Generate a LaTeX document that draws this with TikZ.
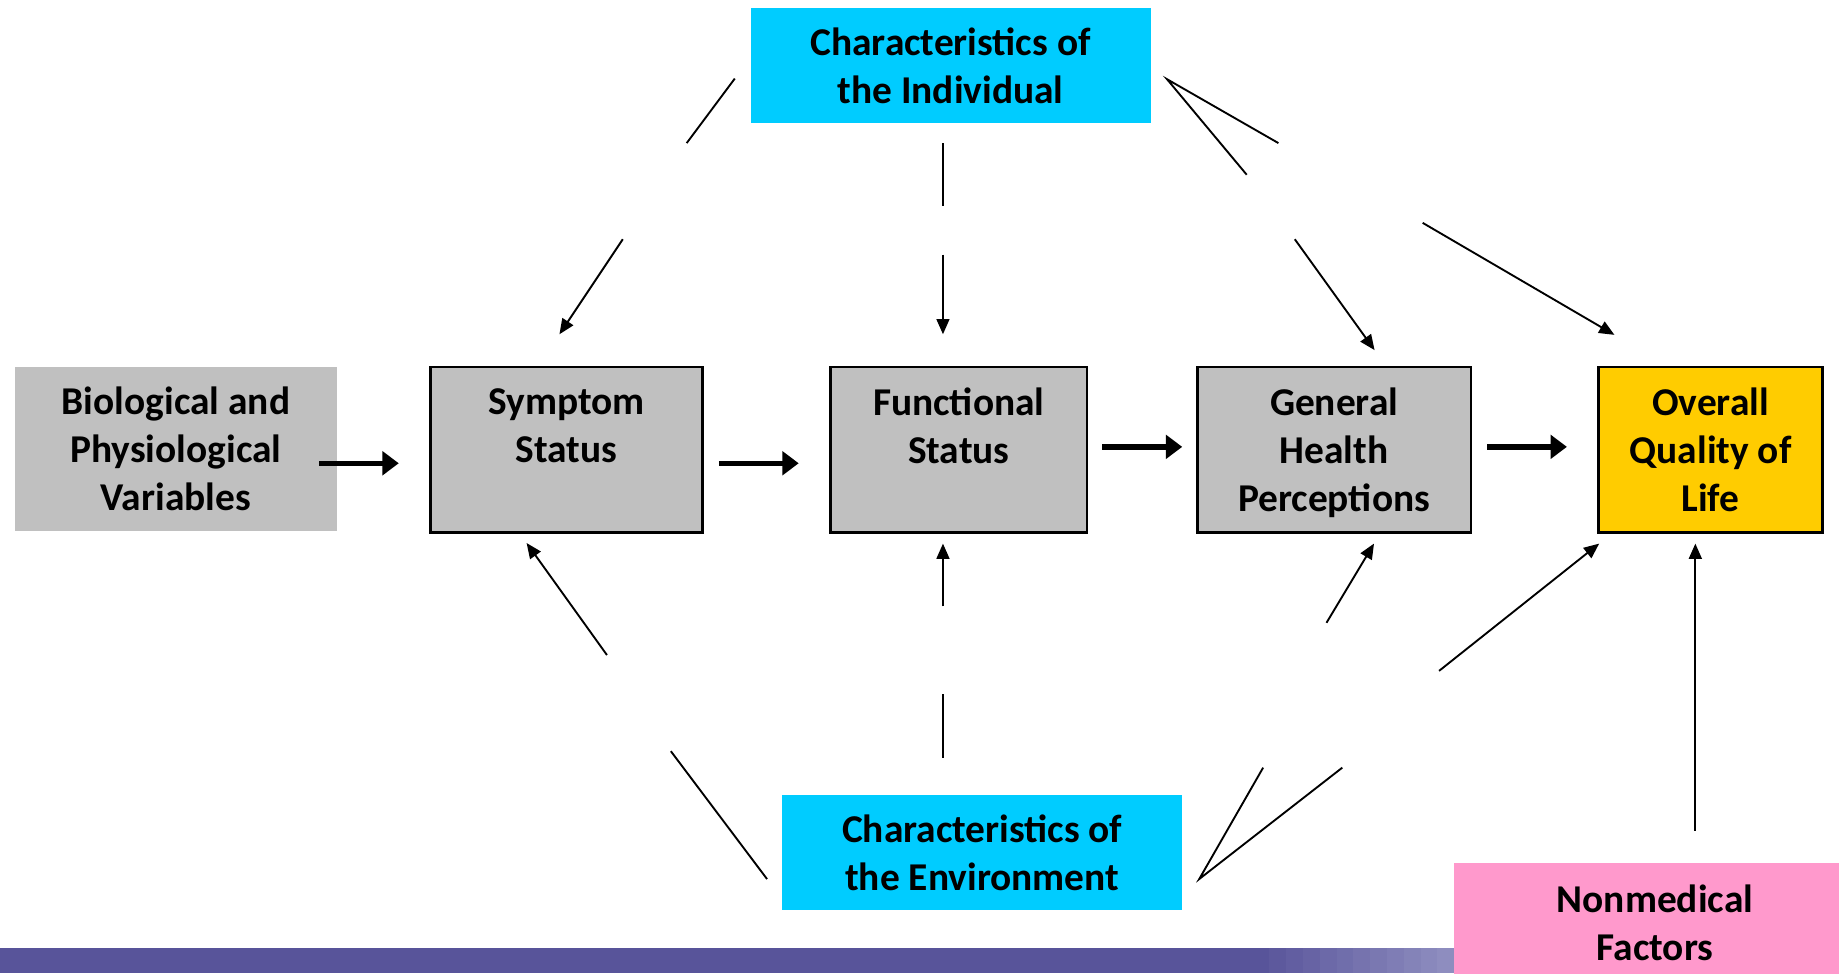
\documentclass[tikz,border=0pt]{standalone}
\usepackage{fontspec}
\setmainfont{Carlito}
\usetikzlibrary{arrows.meta}
\definecolor{cyanbox}{HTML}{00CCFF}
\definecolor{greybox}{HTML}{C0C0C0}
\definecolor{goldbox}{HTML}{FFCC00}
\definecolor{pinkbox}{HTML}{FF99CC}
\definecolor{barblue}{HTML}{58549A}
\definecolor{barlight}{HTML}{8E8DBF}
\begin{document}
\begin{tikzpicture}[x=0.5pt,y=-0.5pt,
  box/.style={inner sep=0pt, align=center,
    font=\fontsize{16.8}{20.5}\selectfont\bfseries},
  plainbox/.style={box, fill=#1},
  framedbox/.style={box, fill=#1, draw=black, line width=1pt},
  bigarrow/.style={line width=2.3pt, -{Triangle[length=7pt,width=10pt]}},
  thinarrow/.style={line width=0.8pt, -{Triangle[length=6.5pt,width=5.5pt]}},
  piece/.style={line width=0.8pt}]
\useasboundingbox (0,0) rectangle (1568,830);
\clip (0,0) rectangle (1568,830);

% footer band, fading out in steps towards the right
\fill[barblue] (0,808) rectangle (1240,830);
\foreach \i in {0,...,11}{
  \pgfmathsetmacro\pct{100*\i/11}
  \fill[barlight!\pct!barblue] (1068+\i*14.33,808) rectangle (1083+\i*14.33,830);
}

% boxes
\node[plainbox=cyanbox, minimum width=170.5pt, minimum height=49pt] (ind) at (810.5,56)
  {Characteristics of\\the Individual};
\node[plainbox=greybox, minimum width=137pt, minimum height=70pt] (bio) at (150,383)
  {Biological and\\Physiological\\Variables};
\node[framedbox=greybox, minimum width=116pt, minimum height=70.5pt] (sym) at (483,383.5)
  {Symptom\\Status\\\phantom{Variables}};
\node[framedbox=greybox, minimum width=109.5pt, minimum height=70.5pt] (fun) at (817.5,383.5)
  {Functional\\Status\\\phantom{Variables}};
\node[framedbox=greybox, minimum width=116.5pt, minimum height=70.5pt] (gen) at (1137.5,383.5)
  {General\\Health\\\raisebox{0pt}[\height][0pt]{Perceptions}};
\node[framedbox=goldbox, minimum width=95.5pt, minimum height=70.5pt] (qol) at (1458.5,383.5)
  {Overall\\Quality of\\Life};
\node[plainbox=cyanbox, minimum width=170.5pt, minimum height=49pt] (env) at (837.5,727)
  {Characteristics of\\the Environment};
\node[plainbox=pinkbox, minimum width=171pt, minimum height=50.5pt] (nmf) at (1411,786.5)
  {Nonmedical\\Factors};

% main chain
\coordinate (b1) at (272,395);  \coordinate (b2) at (340,395);
\coordinate (s1) at (613,395);  \coordinate (s2) at (681,395);
\coordinate (f1) at (940,381);  \coordinate (f2) at (1008,381);
\coordinate (g1) at (1268,381); \coordinate (g2) at (1336,381);
\draw[bigarrow] (b1) -- (b2);
\draw[bigarrow] (s1) -- (s2);
\draw[bigarrow] (f1) -- (f2);
\draw[bigarrow] (g1) -- (g2);

% influences of the individual
\coordinate (iL1) at (626.5,67);  \coordinate (iL2) at (585.5,122);
\coordinate (iL3) at (531,204);   \coordinate (iL4) at (477,285);
\coordinate (iC1) at (804,122);   \coordinate (iC2) at (804,176);
\coordinate (iC3) at (804,217);   \coordinate (iC4) at (804,285);
\coordinate (iR0) at (995,67.5);
\coordinate (iR1) at (1090,122);  \coordinate (iR2) at (1063,149);
\coordinate (iR3) at (1104,204);  \coordinate (iR4) at (1172,298.5);
\coordinate (iR5) at (1213,190);  \coordinate (iR6) at (1376.5,285.5);
\draw[piece] (iL1) -- (iL2);
\draw[thinarrow] (iL3) -- (iL4);
\draw[piece] (iC1) -- (iC2);
\draw[thinarrow] (iC3) -- (iC4);
\draw[piece] (iR1) -- (iR0) -- (iR2);
\draw[thinarrow] (iR3) -- (iR4);
\draw[thinarrow] (iR5) -- (iR6);

% influences of the environment
\coordinate (eL1) at (654,749.5); \coordinate (eL2) at (572,640.5);
\coordinate (eL3) at (517.5,558.5); \coordinate (eL4) at (449,463);
\coordinate (eC1) at (804,646);   \coordinate (eC2) at (804,592);
\coordinate (eC3) at (804,517);   \coordinate (eC4) at (804,463.5);
\coordinate (eR0) at (1022.5,749.5);
\coordinate (eR1) at (1077,654.5); \coordinate (eR2) at (1144.5,654.5);
\coordinate (eR3) at (1131,531);   \coordinate (eR4) at (1171.5,463.5);
\coordinate (eR5) at (1227,572);   \coordinate (eR6) at (1363.5,463.5);
\draw[piece] (eL1) -- (eL2);
\draw[thinarrow] (eL3) -- (eL4);
\draw[piece] (eC1) -- (eC2);
\draw[thinarrow] (eC3) -- (eC4);
\draw[piece] (eR1) -- (eR0) -- (eR2);
\draw[thinarrow] (eR3) -- (eR4);
\draw[thinarrow] (eR5) -- (eR6);

% nonmedical factors
\coordinate (n1) at (1445.5,708.5); \coordinate (n2) at (1445.5,463.5);
\draw[thinarrow] (n1) -- (n2);
\end{tikzpicture}
\end{document}
